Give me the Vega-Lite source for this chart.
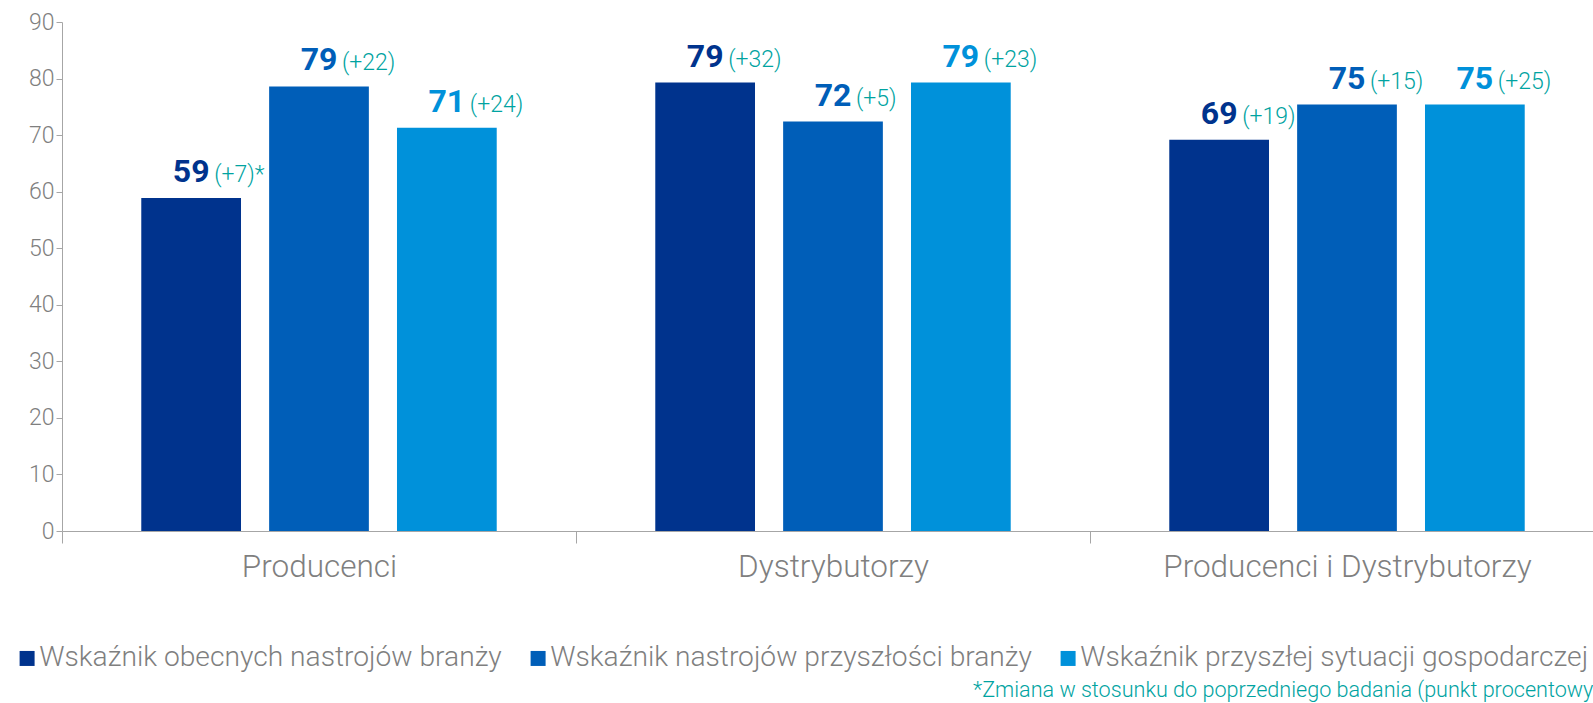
{
  "$schema": "https://vega.github.io/schema/vega-lite/v6.json",
  "autosize": {"type": "none"},
  "padding": {"left": 62, "top": 22, "right": 0, "bottom": 172},
  "width": 1542,
  "height": 509,
  "config": {"font": "Roboto", "view": {"stroke": null}},
  "title": {
    "text": "*Zmiana w stosunku do poprzedniego badania (punkt procentowy)",
    "orient": "bottom",
    "anchor": "start",
    "dx": 960,
    "fontSize": 21.6,
    "fontWeight": 300,
    "color": "#00A3A1",
    "offset": 8
  },
  "data": {
    "values": [
      {"group": "Producenci", "series": "Wskaźnik obecnych nastrojów branży", "value": 58.9, "label": "59", "change": "(+7)*"},
      {"group": "Producenci", "series": "Wskaźnik nastrojów przyszłości branży", "value": 78.6, "label": "79", "change": "(+22)"},
      {"group": "Producenci", "series": "Wskaźnik przyszłej sytuacji gospodarczej", "value": 71.3, "label": "71", "change": "(+24)"},
      {"group": "Dystrybutorzy", "series": "Wskaźnik obecnych nastrojów branży", "value": 79.3, "label": "79", "change": "(+32)"},
      {"group": "Dystrybutorzy", "series": "Wskaźnik nastrojów przyszłości branży", "value": 72.4, "label": "72", "change": "(+5)"},
      {"group": "Dystrybutorzy", "series": "Wskaźnik przyszłej sytuacji gospodarczej", "value": 79.3, "label": "79", "change": "(+23)"},
      {"group": "Producenci i Dystrybutorzy", "series": "Wskaźnik obecnych nastrojów branży", "value": 69.2, "label": "69", "change": "(+19)"},
      {"group": "Producenci i Dystrybutorzy", "series": "Wskaźnik nastrojów przyszłości branży", "value": 75.4, "label": "75", "change": "(+15)"},
      {"group": "Producenci i Dystrybutorzy", "series": "Wskaźnik przyszłej sytuacji gospodarczej", "value": 75.4, "label": "75", "change": "(+25)"}
    ]
  },
  "encoding": {
    "x": {
      "field": "group",
      "type": "nominal",
      "sort": ["Producenci", "Dystrybutorzy", "Producenci i Dystrybutorzy"],
      "scale": {"paddingInner": 0, "paddingOuter": 0},
      "axis": {
        "title": null,
        "labelAngle": 0,
        "labelLimit": 1000,
        "tickBand": "extent",
        "tickSize": 12,
        "tickColor": "#a6a6a6",
        "domainColor": "#a6a6a6",
        "labelFontSize": 31.5,
        "labelFontWeight": 300,
        "labelColor": "#7f7f7f",
        "labelPadding": 8
      }
    },
    "xOffset": {
      "field": "series",
      "type": "nominal",
      "sort": ["Wskaźnik obecnych nastrojów branży", "Wskaźnik nastrojów przyszłości branży", "Wskaźnik przyszłej sytuacji gospodarczej"],
      "scale": {"paddingInner": 0.22, "paddingOuter": 0.62}
    },
    "y": {
      "field": "value",
      "type": "quantitative",
      "scale": {"domain": [0, 90], "nice": false},
      "axis": {
        "title": null,
        "values": [0, 10, 20, 30, 40, 50, 60, 70, 80, 90],
        "grid": false,
        "tickSize": 6,
        "tickColor": "#a6a6a6",
        "domainColor": "#a6a6a6",
        "labelFontSize": 23,
        "labelFontWeight": 300,
        "labelColor": "#7f7f7f",
        "labelPadding": 2
      }
    }
  },
  "layer": [
    {
      "mark": {"type": "bar"},
      "encoding": {
        "color": {
          "field": "series",
          "type": "nominal",
          "sort": ["Wskaźnik obecnych nastrojów branży", "Wskaźnik nastrojów przyszłości branży", "Wskaźnik przyszłej sytuacji gospodarczej"],
          "scale": {"domain": ["Wskaźnik obecnych nastrojów branży", "Wskaźnik nastrojów przyszłości branży", "Wskaźnik przyszłej sytuacji gospodarczej"], "range": ["#00338D", "#005EB8", "#0091DA"]},
          "legend": {
            "title": null,
            "orient": "none",
            "direction": "horizontal",
            "legendX": -49,
            "legendY": 622,
            "padding": 0,
            "symbolType": "square",
            "symbolSize": 225,
            "symbolStrokeWidth": 0,
            "labelFontSize": 28.2,
            "labelFontWeight": 300,
            "labelColor": "#7f7f7f",
            "labelOffset": -2,
            "labelLimit": 1000,
            "columnPadding": 22
          }
        }
      }
    },
    {
      "mark": {"type": "text", "baseline": "alphabetic", "dy": -16, "fontSize": 32, "fontWeight": "bold"},
      "encoding": {
        "text": {"field": "label"},
        "color": {
          "field": "series",
          "type": "nominal",
          "scale": {"domain": ["Wskaźnik obecnych nastrojów branży", "Wskaźnik nastrojów przyszłości branży", "Wskaźnik przyszłej sytuacji gospodarczej"], "range": ["#00338D", "#005EB8", "#0091DA"]},
          "legend": null
        }
      }
    },
    {
      "mark": {"type": "text", "baseline": "alphabetic", "align": "left", "dx": 23, "dy": -16, "fontSize": 23, "fontWeight": 300, "color": "#00A3A1"},
      "encoding": {"text": {"field": "change"}}
    }
  ],
  "resolve": {"scale": {"color": "independent"}}
}
